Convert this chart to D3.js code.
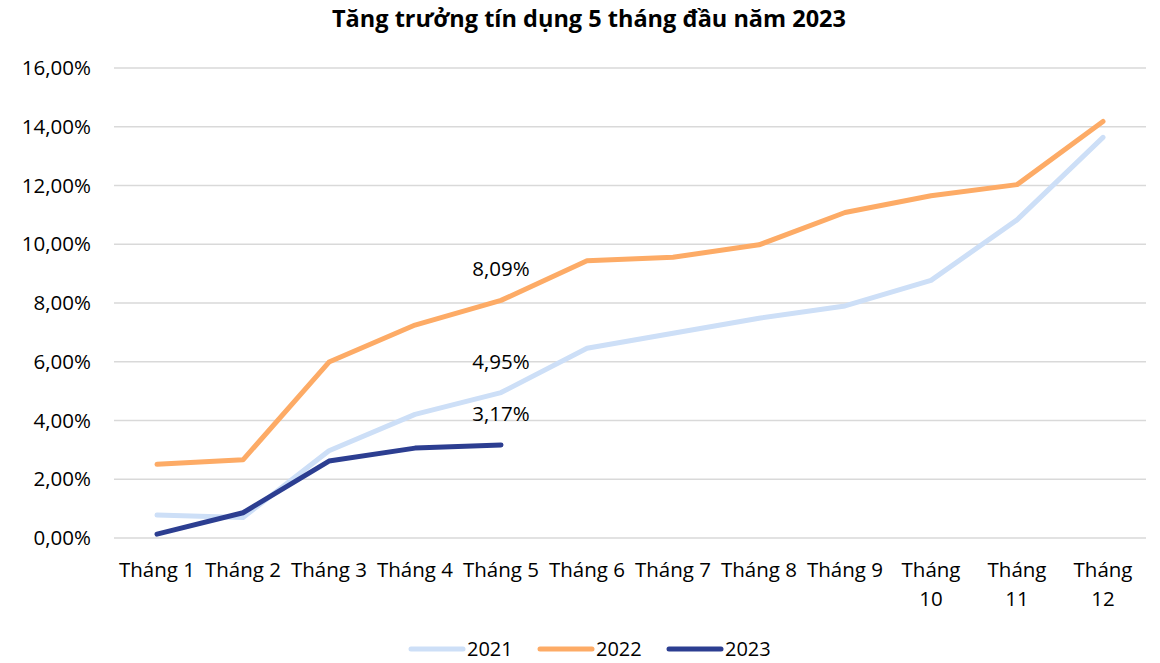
<!DOCTYPE html>
<html>
<head>
<meta charset="utf-8">
<script src="https://cdn.jsdelivr.net/npm/d3@7"></script>
<style>
  body { margin: 0; background: #fff; }
  svg { display: block; font-family: "Open Sans", "Liberation Sans", sans-serif; }
</style>
</head>
<body>
<svg id="chart" width="1160" height="663"></svg>
<script>
const months = ["Tháng 1", "Tháng 2", "Tháng 3", "Tháng 4", "Tháng 5", "Tháng 6",
    "Tháng 7", "Tháng 8", "Tháng 9", "Tháng 10", "Tháng 11", "Tháng 12"];
const years = ["2021", "2022", "2023"];
const values2021 = [0.78, 0.70, 2.97, 4.21, 4.95, 6.46, 6.97, 7.48, 7.90, 8.77, 10.83, 13.64];
const values2022 = [2.51, 2.66, 5.99, 7.25, 8.09, 9.44, 9.56, 9.98, 11.08, 11.65, 12.03, 14.18];
const values2023 = [0.13, 0.86, 2.62, 3.06, 3.17];
const yTicks = [0, 2, 4, 6, 8, 10, 12, 14, 16];
const labelled = [
    {year: "2022", month: "Tháng 5", text: "8,09%"},
    {year: "2021", month: "Tháng 5", text: "4,95%"},
    {year: "2023", month: "Tháng 5", text: "3,17%"}
];

const colors = {"2021": "#cddff7", "2022": "#fdab66", "2023": "#2c3e91"};
const seriesValues = {"2021": values2021, "2022": values2022, "2023": values2023};

const svg = d3.select("#chart");
const margin = {top: 68, right: 14, bottom: 125, left: 114};
const width = 1160, height = 663;
const fontSize = "20.5px";

const x = d3.scaleBand().domain(months).range([margin.left, width - margin.right]);
const y = d3.scaleLinear().domain([0, 16]).range([height - margin.bottom, margin.top]);

const fmt = v => d3.format(".2f")(v).replace(".", ",") + "%";

svg.append("text")
    .attr("x", 589)
    .attr("y", 27)
    .attr("text-anchor", "middle")
    .style("font-size", "23.5px")
    .style("font-weight", "bold")
    .text("Tăng trưởng tín dụng 5 tháng đầu năm 2023");

// grid
svg.append("g")
    .selectAll("line")
    .data(yTicks)
    .join("line")
    .attr("x1", margin.left)
    .attr("x2", width - margin.right)
    .attr("y1", d => y(d))
    .attr("y2", d => y(d))
    .attr("stroke", "#d9d9d9")
    .attr("stroke-width", 1.3);

// y labels
svg.append("g")
    .selectAll("text")
    .data(yTicks)
    .join("text")
    .attr("x", 91)
    .attr("y", d => y(d))
    .attr("dy", "0.35em")
    .attr("text-anchor", "end")
    .style("font-size", fontSize)
    .attr("fill", "#000")
    .text(fmt);

// x labels, wrapped like Excel when too wide
const xLab = svg.append("g")
    .selectAll("text")
    .data(months)
    .join("text")
    .attr("x", d => x(d) + x.bandwidth() / 2)
    .attr("y", 577)
    .attr("text-anchor", "middle")
    .style("font-size", fontSize);
xLab.each(function(d) {
    const t = d3.select(this);
    const parts = d.split(" ");
    if (parts[1].length > 1) {
        t.append("tspan").attr("x", x(d) + x.bandwidth() / 2).text(parts[0]);
        t.append("tspan").attr("x", x(d) + x.bandwidth() / 2).attr("dy", 29).text(parts[1]);
    } else {
        t.text(d);
    }
});

const line = d3.line()
    .x((d, i) => x(months[i]) + x.bandwidth() / 2)
    .y(d => y(d));

svg.append("g")
    .selectAll("path")
    .data(years)
    .join("path")
    .attr("fill", "none")
    .attr("stroke", d => colors[d])
    .attr("stroke-width", 5)
    .attr("stroke-linecap", "round")
    .attr("stroke-linejoin", "round")
    .attr("d", d => line(seriesValues[d]));

svg.append("g")
    .selectAll("text")
    .data(labelled)
    .join("text")
    .attr("x", d => x(d.month) + x.bandwidth() / 2)
    .attr("y", d => y(seriesValues[d.year][months.indexOf(d.month)]) - 24)
    .attr("text-anchor", "middle")
    .style("font-size", fontSize)
    .text(d => d.text);

// legend
const legend = svg.append("g")
    .selectAll("g")
    .data(years)
    .join("g")
    .attr("transform", (d, i) => `translate(${411 + i * 129}, 649)`);

legend.append("line")
    .attr("x1", 0)
    .attr("x2", 52)
    .attr("stroke", d => colors[d])
    .attr("stroke-width", 5)
    .attr("stroke-linecap", "round");

legend.append("text")
    .attr("x", 56)
    .attr("dy", "0.35em")
    .style("font-size", "20px")
    .text(d => d);
</script>
</body>
</html>
